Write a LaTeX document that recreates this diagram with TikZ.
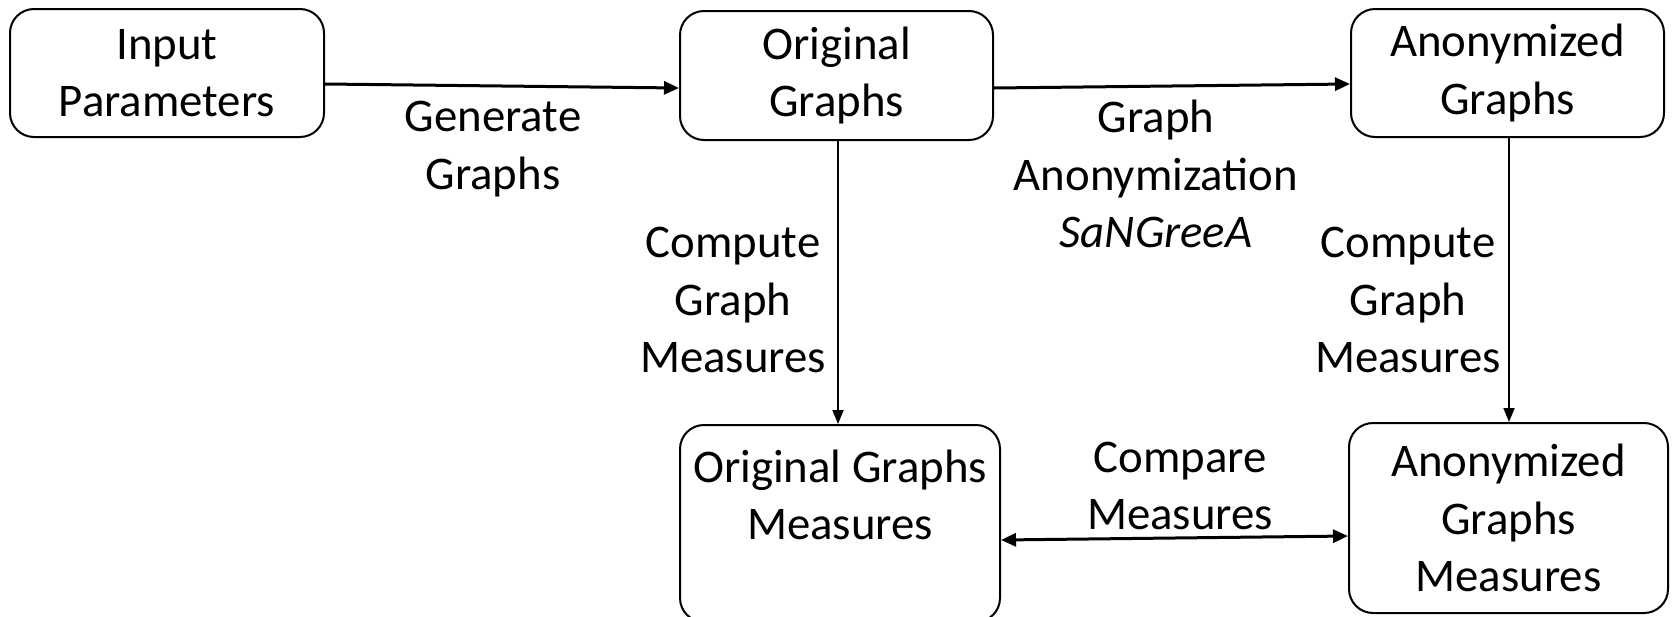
\documentclass[tikz,border=0pt]{standalone}
\usepackage{fontspec}
\setmainfont{Carlito}
\usetikzlibrary{arrows.meta}
\begin{document}
\begin{tikzpicture}[x=0.5pt,y=-0.5pt,
  box/.style={draw, line width=1pt, rounded corners=12pt, align=center, inner sep=0pt},
  lbl/.style={align=center},
  arr/.style={line width=1.5pt, -{Triangle[length=7.5pt,width=6.5pt]}},
  varr/.style={line width=0.9pt, -{Triangle[length=7pt,width=5.5pt]}},
  darr/.style={line width=1.5pt, {Triangle[length=7.5pt,width=6.5pt]}-{Triangle[length=7.5pt,width=6.5pt]}}]
\useasboundingbox (0,0) rectangle (1675,616);
\tikzset{every node/.append style={font=\fontsize{23.4pt}{28.8pt}\selectfont}}
\node[box, minimum width=157pt, minimum height=64pt] (in) at (167,73) {Input\\Parameters};
\node[box, minimum width=156.5pt, minimum height=64.5pt] (orig) at (836.5,75.5) {Original\\Graphs};
\node[box, minimum width=156.5pt, minimum height=64pt] (anon) at (1507.5,73) {Anonymized\\Graphs};
\node[box, minimum width=160pt, minimum height=98.5pt] (ogm) at (840,523.5) {Original Graphs\\Measures\\\mbox{}};
\node[box, minimum width=159.5pt, minimum height=95pt] (agm) at (1508.5,518) {Anonymized\\Graphs\\Measures};
\draw[arr] ([yshift=-5.5pt]in.east) -- ([yshift=-6.25pt]orig.west);
\draw[arr] ([yshift=-6.25pt]orig.east) -- ([yshift=-5.5pt]anon.west);
\draw[varr] ([xshift=0.75pt]orig.south) -- ([xshift=-1pt]ogm.north);
\draw[varr] ([xshift=0.75pt]anon.south) -- ([xshift=0.25pt]agm.north);
\draw[darr] ([yshift=-8.25pt]ogm.east) -- ([yshift=-9pt]agm.west);
\node[lbl] (lgen) at (493,149) {Generate\\Graphs};
\node[lbl] (lanon) at (1156,174) {Graph\\Anonymization\\\textit{SaNGreeA}};
\node[lbl] (lcl) at (733,300) {Compute\\Graph\\Measures};
\node[lbl] (lcr) at (1408,300) {Compute\\Graph\\Measures};
\node[lbl] (lcmp) at (1180,486) {Compare\\Measures};
\end{tikzpicture}
\end{document}
